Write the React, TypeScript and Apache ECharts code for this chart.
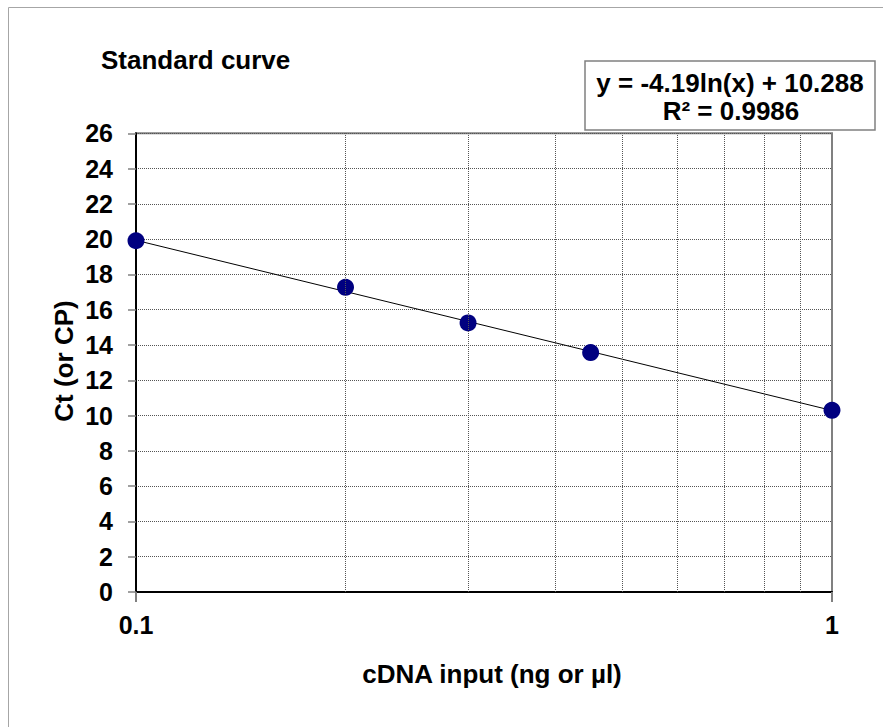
import React, { useEffect, useRef } from "react";
import * as echarts from "echarts";

const inputX = [0.1, 0.2, 0.3, 0.45, 1];
const ctValues = [19.91, 17.27, 15.25, 13.57, 10.3];
const trendX = [0.1, 1];
const trendY = [19.936, 10.288];
const minorGridX = [0.2, 0.3, 0.4, 0.5, 0.6, 0.7, 0.8, 0.9];
const yTicks = { min: 0, max: 26, interval: 2 };
const titleText = "Standard curve";
const equationLines = ["y = -4.19ln(x) + 10.288", "R\u00b2 = 0.9986"];
const xTitle = "cDNA input (ng or \u00b5l)";
const yTitle = "Ct (or CP)";

const FONT = "'Liberation Sans', Arial, Helvetica, sans-serif";

export default function App() {
  const ref = useRef<HTMLDivElement>(null);
  useEffect(() => {
    if (!ref.current) return;
    const chart = echarts.init(ref.current, undefined, { renderer: "svg" });
    const textStyle = (t: string, extra: any = {}) => ({
      text: t,
      fill: "#000",
      font: `bold 26px ${FONT}`,
      ...extra,
    });
    chart.setOption({
      animation: false,
      backgroundColor: "#fff",
      grid: {
        left: 136,
        top: 133.3,
        right: 51,
        bottom: 135,
        show: true,
        borderColor: "#808080",
        borderWidth: 2,
        backgroundColor: "#fff",
      },
      xAxis: {
        type: "log",
        logBase: 10,
        min: 0.1,
        max: 1,
        axisLine: { show: true, lineStyle: { color: "#000", width: 2 } },
        axisTick: { show: true, length: 10, lineStyle: { color: "#808080", width: 2 } },
        axisLabel: {
          show: true,
          margin: 20,
          color: "#000",
          fontSize: 25,
          fontWeight: "bold",
          fontFamily: FONT,
          showMinLabel: true,
          showMaxLabel: true,
        },
        splitLine: { show: false },
      },
      yAxis: {
        type: "value",
        min: yTicks.min,
        max: yTicks.max,
        interval: yTicks.interval,
        axisLine: { show: true, lineStyle: { color: "#000", width: 2 } },
        axisTick: { show: true, length: 8, lineStyle: { color: "#808080", width: 1.5 } },
        axisLabel: {
          margin: 23,
          color: "#000",
          fontSize: 25,
          fontWeight: "bold",
          fontFamily: FONT,
        },
        splitLine: { show: true, lineStyle: { type: "dotted", color: "#555", width: 1 } },
      },
      series: [
        {
          type: "line",
          data: trendX.map((x, i) => [x, trendY[i]]),
          symbol: "none",
          lineStyle: { color: "#000", width: 1 },
          z: 2,
          silent: true,
          markLine: {
            silent: true,
            symbol: ["none", "none"],
            label: { show: false },
            lineStyle: { type: "dotted", color: "#555", width: 1 },
            data: minorGridX.map((v) => ({ xAxis: v })),
          },
        },
        {
          type: "scatter",
          data: inputX.map((x, i) => [x, ctValues[i]]),
          symbol: "circle",
          symbolSize: 17,
          itemStyle: { color: "#000080", opacity: 1 },
          z: 3,
        },
      ],
      graphic: [
        {
          type: "rect",
          shape: { x: 8.5, y: 7.5, width: 1000, height: 1000 },
          style: { fill: "none", stroke: "#a6a6a6", lineWidth: 1 },
          silent: true,
          z: -10,
        },
        {
          type: "text",
          x: 101,
          y: 59.5,
          style: textStyle(titleText, { align: "left", verticalAlign: "middle" }),
        },
        {
          type: "rect",
          shape: { x: 585, y: 61, width: 290, height: 69 },
          style: { fill: "#fff", stroke: "#808080", lineWidth: 1.5 },
        },
        {
          type: "text",
          x: 730,
          y: 82.5,
          style: textStyle(equationLines[0], { align: "center", verticalAlign: "middle" }),
        },
        {
          type: "text",
          x: 731,
          y: 111,
          style: textStyle(equationLines[1], { align: "center", verticalAlign: "middle" }),
        },
        {
          type: "text",
          x: 492,
          y: 674,
          style: textStyle(xTitle, { align: "center", verticalAlign: "middle" }),
        },
        {
          type: "text",
          x: 64,
          y: 361,
          rotation: Math.PI / 2,
          style: textStyle(yTitle, { align: "center", verticalAlign: "middle" }),
        },
      ],
    });
    return () => chart.dispose();
  }, []);
  return (
    <div
      ref={ref}
      style={{ position: "fixed", left: 0, top: 0, width: 883, height: 727 }}
    />
  );
}
